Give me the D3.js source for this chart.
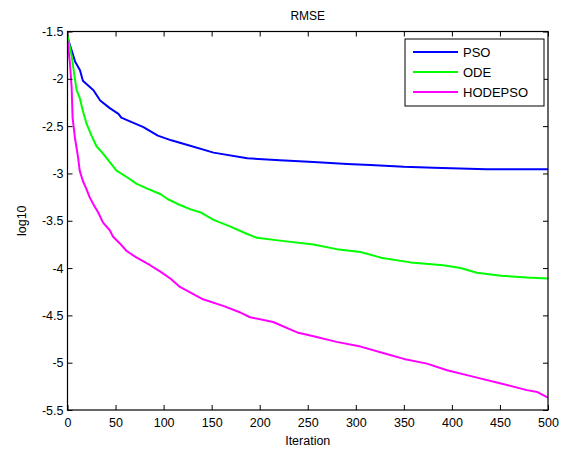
<!DOCTYPE html>
<head>
<meta charset="utf-8">
<script src="https://d3js.org/d3.v7.min.js"></script>
<style>
  body { margin: 0; background: #fff; }
  text { font-family: "Liberation Sans", Arial, sans-serif; font-size: 12.5px; fill: #000; }
  .tick text { font-size: 12.5px; }
  .tick line { stroke: #000; }
  path.domain { display: none; }
</style>
</head>
<body>
<script>
// data
const iterPSO = [0, 8, 13, 16, 27, 34, 44, 53, 56, 65, 79, 94, 108, 125, 152, 187, 221, 256, 291, 315, 350, 381, 436, 500];
const valPSO = [-1.56, -1.82, -1.91, -2.02, -2.12, -2.23, -2.31, -2.37, -2.41, -2.45, -2.51, -2.60, -2.65, -2.70, -2.78, -2.84, -2.86, -2.88, -2.90, -2.91, -2.93, -2.94, -2.955, -2.955];

const iterODE = [0, 4.5, 7, 9.5, 13, 16, 20, 25, 30, 37, 44, 51, 62, 72, 83, 97, 104, 114, 128, 138, 152, 169, 187, 197, 221, 256, 280, 305, 326, 357, 391, 409, 426, 451, 478, 500];
const valODE = [-1.54, -1.77, -1.95, -2.12, -2.21, -2.34, -2.48, -2.60, -2.71, -2.79, -2.88, -2.97, -3.04, -3.11, -3.16, -3.22, -3.27, -3.32, -3.38, -3.41, -3.49, -3.56, -3.64, -3.68, -3.71, -3.75, -3.80, -3.83, -3.89, -3.94, -3.97, -4.00, -4.05, -4.08, -4.10, -4.11];

const iterHODE = [0, 2.6, 4.3, 5.3, 7.7, 11, 12.7, 16, 19.5, 23, 26.6, 31.8, 37, 44, 47.5, 54.5, 61.5, 72, 86, 97, 107, 117, 141, 162, 180, 190, 214, 239, 256, 280, 305, 333, 350, 374, 395, 423, 451, 478, 489, 500];
const valHODE = [-1.595, -1.84, -2.09, -2.41, -2.62, -2.83, -2.97, -3.08, -3.16, -3.25, -3.32, -3.41, -3.52, -3.60, -3.67, -3.74, -3.82, -3.89, -3.97, -4.04, -4.11, -4.20, -4.33, -4.40, -4.47, -4.52, -4.57, -4.68, -4.72, -4.78, -4.83, -4.91, -4.96, -5.01, -5.08, -5.15, -5.22, -5.29, -5.31, -5.37];

const seriesNames = ['PSO', 'ODE', 'HODEPSO'];
const seriesColors = ['#0000ff', '#00ff00', '#ff00ff'];
const xTicks = [0, 50, 100, 150, 200, 250, 300, 350, 400, 450, 500];
const yTicks = [-1.5, -2, -2.5, -3, -3.5, -4, -4.5, -5, -5.5];

const width = 566, height = 450;
const margin = { left: 67.5, right: 18, top: 31.5, bottom: 40 };

const svg = d3.select('body').append('svg')
  .attr('width', width)
  .attr('height', height);

const x = d3.scaleLinear().domain([0, 500]).range([margin.left, width - margin.right]);
const y = d3.scaleLinear().domain([-5.5, -1.5]).range([height - margin.bottom, margin.top]);

const series = [
  { name: seriesNames[0], color: seriesColors[0], pts: iterPSO.map((d, i) => [d, valPSO[i]]) },
  { name: seriesNames[1], color: seriesColors[1], pts: iterODE.map((d, i) => [d, valODE[i]]) },
  { name: seriesNames[2], color: seriesColors[2], pts: iterHODE.map((d, i) => [d, valHODE[i]]) }
];

const line = d3.line().x(d => x(d[0])).y(d => y(d[1]));

svg.append('defs').append('clipPath').attr('id', 'clip')
  .append('rect')
  .attr('x', x(0)).attr('y', y(-1.5))
  .attr('width', x(500) - x(0)).attr('height', y(-5.5) - y(-1.5));

svg.append('g').attr('clip-path', 'url(#clip)')
  .selectAll('path.series')
  .data(series)
  .enter()
  .append('path')
  .attr('class', 'series')
  .attr('d', d => line(d.pts))
  .attr('fill', 'none')
  .attr('stroke', d => d.color)
  .attr('stroke-width', 2)
  .attr('stroke-linejoin', 'round');

// axes: ticks point inward, mirrored on top/right (matlab box)
const tickLen = 5;
svg.append('g')
  .attr('transform', `translate(0,${y(-5.5)})`)
  .call(d3.axisBottom(x).tickValues(xTicks).tickSizeInner(-tickLen).tickSizeOuter(0).tickPadding(8).tickFormat(d3.format('d')));
svg.append('g')
  .attr('transform', `translate(0,${y(-1.5)})`)
  .call(d3.axisTop(x).tickValues(xTicks).tickSizeInner(-tickLen).tickSizeOuter(0).tickFormat(''));
svg.append('g')
  .attr('transform', `translate(${x(0)},0)`)
  .call(d3.axisLeft(y).tickValues(yTicks).tickSizeInner(-tickLen).tickSizeOuter(0).tickPadding(4).tickFormat(d => d));
svg.append('g')
  .attr('transform', `translate(${x(500)},0)`)
  .call(d3.axisRight(y).tickValues(yTicks).tickSizeInner(-tickLen).tickSizeOuter(0).tickFormat(''));

svg.append('rect')
  .attr('x', x(0)).attr('y', y(-1.5))
  .attr('width', x(500) - x(0)).attr('height', y(-5.5) - y(-1.5))
  .attr('fill', 'none')
  .attr('stroke', '#000')
  .attr('stroke-width', 1.2);

svg.append('text')
  .attr('x', (x(0) + x(500)) / 2)
  .attr('y', 20)
  .style('text-anchor', 'middle')
  .style('font-size', '12px')
  .text('RMSE');

svg.append('text')
  .attr('x', (x(0) + x(500)) / 2)
  .attr('y', 445)
  .style('text-anchor', 'middle')
  .text('Iteration');

svg.append('text')
  .attr('transform', `translate(26,${(y(-1.5) + y(-5.5)) / 2}) rotate(-90)`)
  .style('text-anchor', 'middle')
  .text('log10');

// legend
const legend = svg.append('g').attr('transform', 'translate(405,39)');
legend.append('rect')
  .attr('width', 139).attr('height', 67)
  .attr('fill', '#fff')
  .attr('stroke', '#000')
  .attr('stroke-width', 1);
const rows = legend.selectAll('g.row')
  .data(series)
  .enter()
  .append('g')
  .attr('class', 'row')
  .attr('transform', (d, i) => `translate(0,${13 + i * 20})`);
rows.append('line')
  .attr('x1', 8).attr('x2', 53)
  .attr('stroke', d => d.color)
  .attr('stroke-width', 2);
rows.append('text')
  .attr('x', 58)
  .attr('dy', '0.36em')
  .style('font-size', '13px')
  .text(d => d.name);
</script>
</body>
